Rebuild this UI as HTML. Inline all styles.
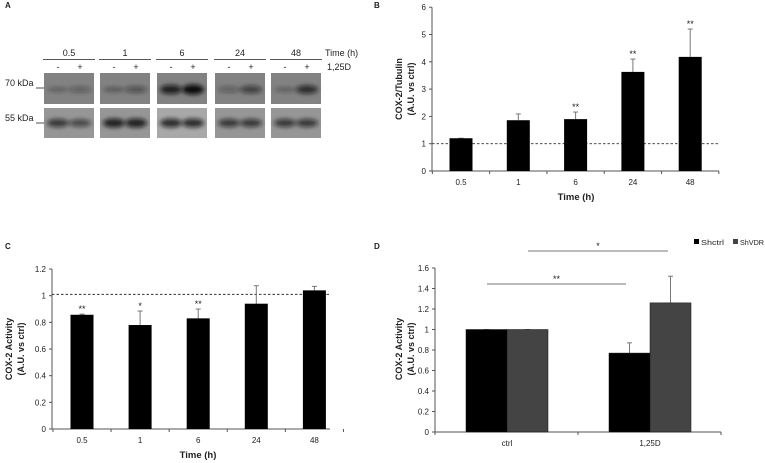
<!DOCTYPE html>
<html><head><meta charset="utf-8"><style>
body{margin:0;background:#fff;}
svg{display:block;font-family:"Liberation Sans",sans-serif;}
</style></head><body>
<svg id="fig" width="765" height="463" viewBox="0 0 765 463">
<defs>
<filter id="blur" x="-50%" y="-50%" width="200%" height="200%"><feGaussianBlur stdDeviation="2"/></filter>
</defs>
<g id="panelA"></g>
<g id="panelB"></g>
<g id="panelC"></g>
<g id="panelD"></g>
</svg>
<script>
const NS='http://www.w3.org/2000/svg';
// Panel B data
const bCats=['0.5','1','6','24','48'];
const bVals=[1.2,1.86,1.9,3.63,4.18];
const bErr=[1.2,2.09,2.16,4.1,5.2];
const bSig=['','','**','**','**'];
const bTicks=[0,1,2,3,4,5,6];
// Panel C data
const cCats=['0.5','1','6','24','48'];
const cVals=[0.857,0.78,0.83,0.94,1.04];
const cErr=[0.862,0.885,0.9,1.075,1.07];
const cSig=['**','*','**','',''];
const cTicks=[0,0.2,0.4,0.6,0.8,1,1.2];
// Panel D data
const dCats=['ctrl','1,25D'];
const dShctrl=[1,0.77];
const dShctrlErr=[1,0.87];
const dShVDR=[1,1.26];
const dShVDRErr=[1,1.52];
const dTicks=[0,0.2,0.4,0.6,0.8,1,1.2,1.4,1.6];
const dTickLabels=['0','0.2','0.4','0.6','0.8','1','1.2','1.4','1.6'];
// Blot data
const blotTimes=['0.5','1','6','24','48'];
const band70=[[0.25,0.35],[0.3,0.45],[0.85,1.0],[0.35,0.6],[0.25,0.75]];
const band55=[[0.7,0.6],[0.85,0.85],[0.8,0.8],[0.7,0.7],[0.7,0.7]];

function mk(parent,tag,attrs,text){const e=document.createElementNS(NS,tag);for(const k in attrs)e.setAttribute(k,attrs[k]);if(text!==undefined)e.textContent=text;parent.appendChild(e);return e;}
function txt(p,x,y,s,o){o=o||{};const e=mk(p,'text',{x:x,y:y,'font-size':o.size||8.5,'text-anchor':o.anchor||'middle','font-weight':o.bold?'bold':'normal',fill:o.fill||'#222'},s);if(o.rot)e.setAttribute('transform',`rotate(-90 ${x} ${y})`);return e;}

// Panel A
const A=document.getElementById('panelA');
let t=txt(A,5,8,'A',{bold:true,anchor:'start',size:8});

const bx=[44,100,157,215,271];
blotTimes.forEach((tm,i)=>{
  const x0=bx[i],w=50;
  let l=mk(A,'line',{x1:x0-1,x2:x0+w+1,y1:59.5,y2:59.5,stroke:'#222','stroke-width':0.8});
  
  let tt=txt(A,x0+w/2,56,tm,{size:9});
  
  let m=txt(A,x0+14,70,'-',{size:9});
  let p=txt(A,x0+36,70,'+',{size:9});
  [[73,31,band70[i],'#828282'],[108,30,band55[i],'#969696']].forEach(([y0,h,b,bg],k)=>{
    const r=mk(A,'rect',{x:x0,y:y0,width:w,height:h,fill:i==2&&k==1?'#a8a8a8':bg});
    
    b.forEach((v,j)=>{
      const e=mk(A,'ellipse',{cx:x0+14+j*22,cy:y0+h/2+(k==0?1:0),rx:11,ry:2+v*3,fill:'#111','fill-opacity':v,filter:'url(#blur)'});
      
    });
  });
});
let tl=txt(A,325,56,'Time (h)',{anchor:'start',size:9});
let dl=txt(A,327,70,'1,25D',{anchor:'start',size:9});
[['70 kDa',88,85],['55 kDa',123,120]].forEach(([s,y,ly])=>{
  let e=txt(A,5,y-2,s,{anchor:'start',size:9});
  mk(A,'line',{x1:36,x2:44,y1:ly+3,y2:ly+3,stroke:'#222','stroke-width':0.8});
});

function barChart(G,cfg){
  const y=v=>cfg.y0-(v-cfg.vmin)*cfg.unit;
  const x=i=>cfg.xStart+i*cfg.step;
  let ax=mk(G,'line',{x1:cfg.axX,x2:cfg.axX,y1:y(cfg.ticks[cfg.ticks.length-1]),y2:cfg.y0,stroke:'#555','stroke-width':1});
  
  cfg.ticks.forEach((tv,i)=>{
    mk(G,'line',{x1:cfg.axX-3,x2:cfg.axX,y1:y(tv),y2:y(tv),stroke:'#555'});
    let e=txt(G,cfg.axX-6,y(tv)+3,cfg.tickLabels?cfg.tickLabels[i]:String(tv),{anchor:'end',size:8});
    
  });
  let xa=mk(G,'line',{x1:cfg.axX,x2:cfg.axEnd,y1:cfg.y0,y2:cfg.y0,stroke:'#555','stroke-width':1});
  
  return {x,y};
}

function timePanel(G,cfg,cats,vals,err,sig){
  const {x,y}=barChart(G,cfg);
  for(let i=0;i<=cats.length;i++){const tx=cfg.xStart-cfg.step/2+i*cfg.step;mk(G,'line',{x1:tx,x2:tx,y1:cfg.y0,y2:cfg.y0+3,stroke:'#555'});}
  let d=mk(G,'line',{x1:cfg.axX,x2:cfg.axEnd,y1:y(cfg.dash),y2:y(cfg.dash),stroke:'#333','stroke-dasharray':'2.5,2','stroke-width':0.9});
  
  cats.forEach((c,i)=>{
    const cx=x(i),bw=23;
    const ey=y(err[i]);
    mk(G,'line',{x1:cx,x2:cx,y1:ey,y2:y(vals[i]),stroke:'#777'});
    mk(G,'line',{x1:cx-2.5,x2:cx+2.5,y1:ey,y2:ey,stroke:'#777'});
    const r=mk(G,'rect',{x:cx-bw/2,y:y(vals[i]),width:bw,height:cfg.y0-y(vals[i]),fill:'#000'});
    
    if(sig[i]){let s=txt(G,cx,ey-2,sig[i],{size:9});}
    let l=txt(G,cx,cfg.y0+14,c,{size:8});
  });
  let xt=txt(G,cfg.xTitleX,cfg.y0+29,'Time (h)',{bold:true,size:9.5});
  let y1=txt(G,cfg.ytX,cfg.ytY,cfg.yt1,{bold:true,size:9,rot:true});
  let y2=txt(G,cfg.ytX+12,cfg.ytY,'(A.U. vs ctrl)',{bold:true,size:9,rot:true});
}

const B=document.getElementById('panelB');
let lb=txt(B,374,8,'B',{bold:true,anchor:'start',size:8});
timePanel(B,{y0:171,vmin:0,unit:27.3,axX:432,axEnd:719,xStart:461,step:57.3,ticks:bTicks,dash:1,xTitleX:576,ytX:402,ytY:89,yt1:'COX-2/Tubulin'},bCats,bVals,bErr,bSig);

const C=document.getElementById('panelC');
let lc=txt(C,5,249,'C',{bold:true,anchor:'start',size:8});
timePanel(C,{y0:429,vmin:0,unit:133.3,axX:52,axEnd:330,xStart:82,step:58.1,ticks:cTicks,dash:1.01,xTitleX:198,ytX:12,ytY:349,yt1:'COX-2 Activity'},cCats,cVals,cErr,cSig);

// Panel D
const D=document.getElementById('panelD');
let ld=txt(D,374,249,'D',{bold:true,anchor:'start',size:8});
const dcfg={y0:432,vmin:0,unit:102.5,axX:435,axEnd:721,xStart:507,step:143,ticks:dTicks,tickLabels:dTickLabels};
const {x:dx,y:dy}=barChart(D,dcfg);
[435,578,721].forEach(tx=>mk(D,'line',{x1:tx,x2:tx,y1:432,y2:435,stroke:'#555'}));
dCats.forEach((c,i)=>{
  const cx=dx(i),bw=41;
  [[dShctrl,dShctrlErr,'#000',cx-bw,'shctrl'],[dShVDR,dShVDRErr,'#444',cx,'shvdr']].forEach(([v,e,col,bx0,nm])=>{
    const ey=dy(e[i]);
    mk(D,'line',{x1:bx0+bw/2,x2:bx0+bw/2,y1:ey,y2:dy(v[i]),stroke:'#777'});
    mk(D,'line',{x1:bx0+bw/2-2.5,x2:bx0+bw/2+2.5,y1:ey,y2:ey,stroke:'#777'});
    const r=mk(D,'rect',{x:bx0,y:dy(v[i]),width:bw,height:432-dy(v[i]),fill:col,stroke:'#111','stroke-width':0.5});
    
  });
  let l=txt(D,cx,446,c,{size:8});
});
[[528,668,251,'*'],[487,626,284,'**']].forEach(([x1,x2,yy,s])=>{
  let l=mk(D,'line',{x1:x1,x2:x2,y1:yy,y2:yy,stroke:'#777','stroke-width':1});
  
  let st=txt(D,(x1+x2)/2,yy-2,s,{size:9});
});
let dy1=txt(D,402,349,'COX-2 Activity',{bold:true,size:9,rot:true});
let dy2=txt(D,414,349,'(A.U. vs ctrl)',{bold:true,size:9,rot:true});
// legend
[[694,'#000','Shctrl','legend-shctrl',23],[733,'#444','ShVDR','legend-shvdr',24]].forEach(([lx,col,s,nm,tlen])=>{
  const g=mk(D,'g',{});
  mk(g,'rect',{x:lx,y:239,width:5,height:5,fill:col});
  const tx=txt(g,lx+7,245,s,{anchor:'start',size:7.5});
  tx.setAttribute('textLength',tlen);tx.setAttribute('lengthAdjust','spacingAndGlyphs');
});
</script>
</body></html>
